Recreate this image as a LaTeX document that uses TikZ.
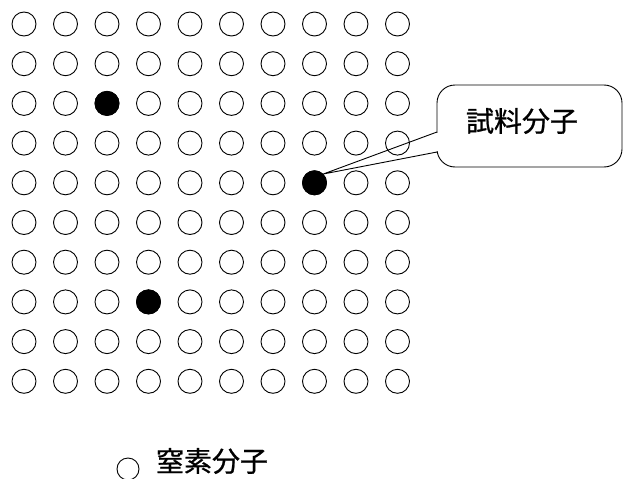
\documentclass[tikz,border=0pt]{standalone}
\usepackage{fontspec}
\newfontfamily\jpfont[FakeBold=0.8]{Noto Sans CJK JP}
\tikzset{mol/.style={draw,circle,minimum size=24pt,inner sep=0pt,line width=0.9pt}}
\tikzset{smp/.style={mol,fill=black}}
\tikzset{lbl/.style={font=\jpfont\fontsize{28}{30}\selectfont,inner sep=0pt}}

\begin{document}
\begin{tikzpicture}[x=1pt,y=-1pt,line width=0.9pt]
    \useasboundingbox (0,0) rectangle (624,479);
    % nitrogen grid
    \foreach \i in {1,...,10}
      \foreach \j in {1,...,10}
        \node[mol] (N\i-\j) at ({24+41.5*(\j-1)},{24+39.7*(\i-1)}) {};
    % sample molecules
    \node[smp] (S1) at (N3-3) {};
    \node[smp] (S2) at (N5-8) {};
    \node[smp] (S3) at (N8-4) {};
    % callout
    \node[lbl] (L) at (522,121) {試料分子};
    \coordinate (P) at (S2.45);
    \draw[rounded corners=18] (437,85) rectangle (622,167);
    \fill[white] (435,133) rectangle (439,151);
    \draw (437,132) -- (P) -- (437,152);
    % legend
    \node[mol,minimum size=22pt] (K) at (128,469) {};
    \node[lbl] (KL) at (212,461) {窒素分子};
  \end{tikzpicture}
\end{document}
